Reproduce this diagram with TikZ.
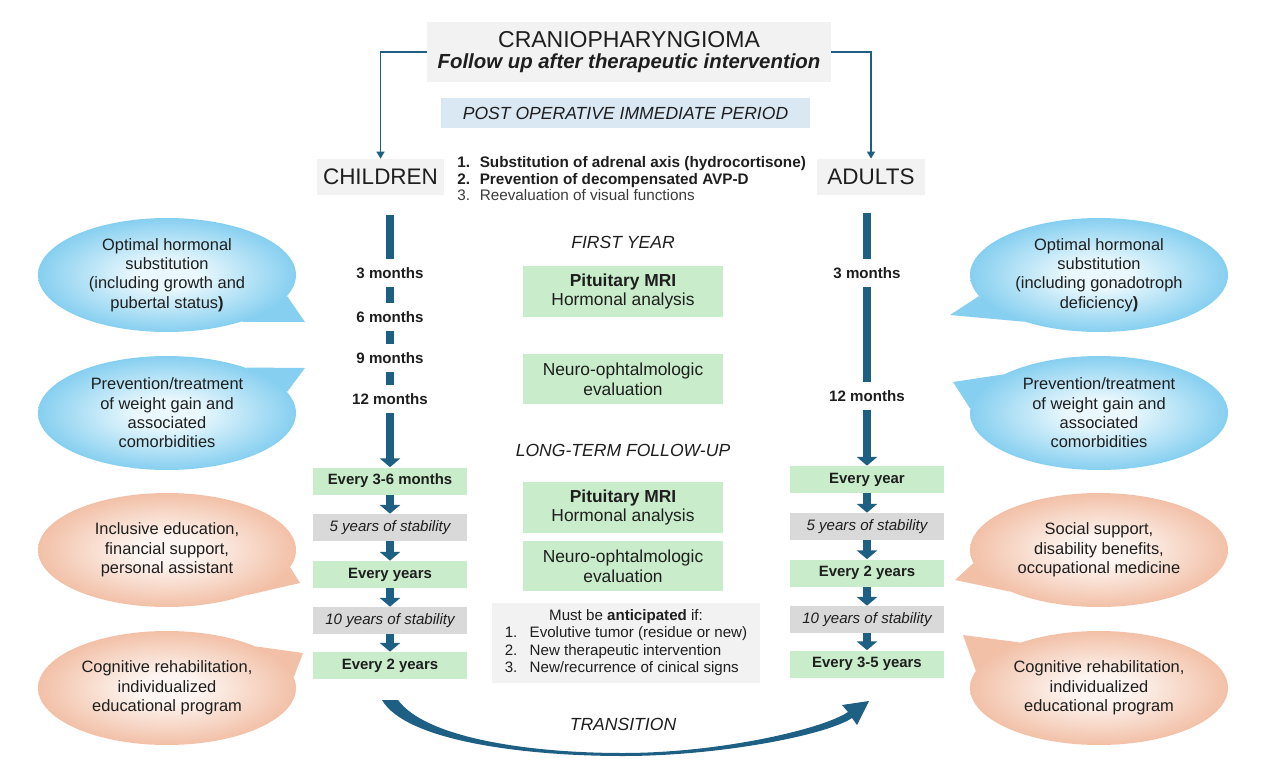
\documentclass[tikz,border=0pt]{standalone}
\usepackage{fontspec}
\setmainfont{Liberation Sans}
\usetikzlibrary{arrows.meta,calc,positioning,shapes.geometric,backgrounds}
\definecolor{fcink}{HTML}{1E1E1E}
\definecolor{fcsoft}{HTML}{3A3A3A}
\definecolor{fcteal}{HTML}{1E5F84}
\definecolor{fcgreen}{HTML}{C9EDCB}
\definecolor{fcgrey}{HTML}{D9D9D9}
\definecolor{fcpale}{HTML}{F2F2F2}
\definecolor{fcpost}{HTML}{DAE8F4}
\definecolor{fcblueC}{HTML}{EAF8FD}
\definecolor{fcblueE}{HTML}{86CFF0}
\definecolor{fcpeachC}{HTML}{FDF5F1}
\definecolor{fcpeachE}{HTML}{F2C0A7}
\pgfdeclareradialshading{blueglow}{\pgfpoint{0bp}{0bp}}{color(0bp)=(fcblueC); color(6bp)=(fcblueC); color(25bp)=(fcblueE); color(50bp)=(fcblueE)}
\pgfdeclareradialshading{peachglow}{\pgfpoint{0bp}{0bp}}{color(0bp)=(fcpeachC); color(6bp)=(fcpeachC); color(25bp)=(fcpeachE); color(50bp)=(fcpeachE)}
\tikzset{
  titlebox/.style={fill=fcpale,minimum width=8.08cm,minimum height=1.2cm,
    inner sep=0pt,align=center},
  groupbox/.style={fill=fcpale,minimum height=0.72cm,inner sep=0pt,
    font=\fontsize{12.8}{14}\selectfont},
  stepbox/.style={fill=fcgreen,minimum width=3.1cm,minimum height=0.54cm,
    inner sep=0pt,font=\fontsize{8.5}{10}\selectfont\bfseries},
  stablebox/.style={fill=fcgrey,minimum width=3.1cm,minimum height=0.54cm,
    inner sep=0pt,font=\fontsize{8.6}{10}\selectfont\itshape},
  monthlabel/.style={minimum height=0.56cm,inner sep=0pt,
    font=\fontsize{8.6}{10}\selectfont\bfseries},
  examblock/.style={fill=fcgreen,minimum width=4cm,inner sep=0pt,align=center,
    font=\fontsize{9.9}{11.3}\selectfont},
  phasetitle/.style={font=\fontsize{10}{12}\selectfont\itshape},
  bubble/.style={ellipse,minimum width=5.16cm,minimum height=2.28cm,
    inner sep=0pt,align=center,font=\fontsize{9.35}{11.05}\selectfont},
  bluebubble/.style={bubble,shade,shading=blueglow},
  peachbubble/.style={bubble,shade,shading=peachglow},
  bartrack/.style={draw=fcteal,line width=5.1pt},
  bararrow/.style={bartrack,-{Triangle[width=11.5pt,length=5pt]}},
  thinlink/.style={draw=fcteal,line width=0.9pt,-{Triangle[width=4.5pt,length=4pt]}},
}

\begin{document}
\begin{tikzpicture}[x=0.02cm,y=-0.02cm,text=fcink]
        \path[use as bounding box] (0,0) rectangle (1268,781);
        % header
        \node[titlebox] (title) at (629,52)
          {\raisebox{-2pt}{\fontsize{13.1}{15}\selectfont CRANIOPHARYNGIOMA}\\[2pt]
           {\fontsize{11.6}{15}\selectfont\bfseries\itshape Follow up after therapeutic intervention}};
        \node[fill=fcpost,minimum width=7.38cm,minimum height=0.6cm,phasetitle] (postop)
          at (625.5,113) {POST OPERATIVE IMMEDIATE PERIOD};
        \node[groupbox,minimum width=2.54cm] (children) at (380.5,177) {CHILDREN};
        \node[groupbox,minimum width=2.16cm] (adults) at (871,177) {ADULTS};
        \draw[thinlink] (title.west) -| (children.north);
        \draw[thinlink] (title.east) -| (adults.north);
        \node[anchor=west,inner sep=0pt,font=\fontsize{8.7}{9.4}\selectfont] (acute) at (457,181)
          {\begin{tabular}{@{}l@{\hspace{5.5pt}}l@{}}
             \textbf{1.} & \textbf{Substitution of adrenal axis (hydrocortisone)}\\
             \textbf{2.} & \textbf{Prevention of decompensated AVP-D}\\
             \color{fcsoft}3. & \color{fcsoft}Reevaluation of visual functions
           \end{tabular}};
        % first year
        \node[phasetitle] (firstyear) at (623,242) {FIRST YEAR};
        \node[examblock,minimum height=1.02cm] (mriA) at (623,291.5)
          {\textbf{Pituitary MRI}\\Hormonal analysis};
        \node[examblock,minimum height=1cm] (neuroA) at (623,379)
          {Neuro-ophtalmologic\\evaluation};
        \foreach \n/\x/\y/\t in {m3L/390/273/3 months,m6L/390/317/6 months,
            m9L/390/358/9 months,m12L/390/399/12 months,
            m3R/867/273/3 months,m12R/867/396/12 months}
          {\node[monthlabel] (\n) at (\x,\y) {\t};}
        \coordinate (topL) at (390,215);
        \coordinate (topR) at (867,213);
        % long-term follow-up
        \node[phasetitle] (longterm) at (623,450) {LONG-TERM FOLLOW-UP};
        \node[examblock,minimum height=1.02cm] (mriB) at (623,507.5)
          {\textbf{Pituitary MRI}\\Hormonal analysis};
        \node[examblock,minimum height=1cm] (neuroB) at (623,566)
          {Neuro-ophtalmologic\\evaluation};
        \node[fill=fcpale,minimum width=5.36cm,minimum height=1.6cm,inner sep=0pt,
          font=\fontsize{8.6}{10}\selectfont] (anticip) at (626,643)
          {\begin{tabular}{@{}l@{\hspace{7pt}}l@{}}
             \multicolumn{2}{c}{Must be \textbf{anticipated} if:}\\
             1. & Evolutive tumor (residue or new)\\
             2. & New therapeutic intervention\\
             3. & New/recurrence of cinical signs
           \end{tabular}};
        \foreach \n/\x/\y/\s/\t in {every36/390/481/stepbox/Every 3-6 months,
            fiveL/390/527.5/stablebox/5 years of stability,
            everyyrs/390/574.5/stepbox/Every years,
            tenL/390/620.5/stablebox/10 years of stability,
            every2L/390/665.5/stepbox/Every 2 years,
            everyyear/867/479.5/stepbox/Every year,
            fiveR/867/526.5/stablebox/5 years of stability,
            every2R/867/573/stepbox/Every 2 years,
            tenR/867/619.5/stablebox/10 years of stability,
            every35/867/664/stepbox/Every 3-5 years}
          {\node[\s] (\n) at (\x,\y) {\t};}
        % timeline bars
        \draw[bartrack] (topL) -- (m3L);
        \draw[bartrack] (m3L) -- (m6L);
        \draw[bartrack] (m6L) -- (m9L);
        \draw[bartrack] (m9L) -- (m12L);
        \draw[bararrow] (m12L) -- (every36);
        \draw[bartrack] (topR) -- (m3R);
        \draw[bartrack] (m3R) -- (m12R);
        \draw[bararrow] (m12R) -- (everyyear);
        \foreach \a/\b in {every36/fiveL,fiveL/everyyrs,everyyrs/tenL,tenL/every2L,
            everyyear/fiveR,fiveR/every2R,every2R/tenR,tenR/every35}
          {\draw[bararrow] (\a) -- (\b);}
        % transition
        \fill[fcteal] (382,700) .. controls (405,740) and (520,756) .. (623,756)
          .. controls (720,756) and (827,735) .. (852,718) -- (857,725) -- (869,701)
          -- (842,705) -- (848,712) .. controls (823,729) and (720,753) .. (623,753)
          .. controls (525,753) and (425,737) .. (398,700) -- cycle;
        \node[phasetitle] (transition) at (623,724) {TRANSITION};
        % side bubbles
        \node[bluebubble] (hormL) at (167,275)
          {Optimal hormonal\\substitution\\(including growth and\\pubertal status\textbf{)}};
        \node[bluebubble] (weightL) at (167,413)
          {Prevention/treatment\\of weight gain and\\associated\\comorbidities};
        \node[peachbubble] (socialL) at (167,550)
          {Inclusive education,\\financial support,\\personal assistant};
        \node[peachbubble] (cogL) at (167,688)
          {Cognitive rehabilitation,\\individualized\\educational program};
        \node[bluebubble] (hormR) at (1099,275)
          {Optimal hormonal\\substitution\\(including gonadotroph\\deficiency\textbf{)}};
        \node[bluebubble] (weightR) at (1099,413)
          {Prevention/treatment\\of weight gain and\\associated\\comorbidities};
        \node[peachbubble] (socialR) at (1099,550)
          {Social support,\\disability benefits,\\occupational medicine};
        \node[peachbubble] (cogR) at (1099,688)
          {Cognitive rehabilitation,\\individualized\\educational program};
        \begin{scope}[on background layer]
          \fill[fcblueE] (hormL.-10) -- (305,322) -- (hormL.-32) -- cycle;
          \fill[fcblueE] (weightL.10) -- (305,368) -- (weightL.30) -- cycle;
          \fill[fcblueE] (hormR.190) -- (950,315) -- (hormR.212) -- cycle;
          \fill[fcblueE] (weightR.158) -- (953,382) -- (weightR.178) -- cycle;
          \fill[fcpeachE] (socialL.-8) -- (300,583) -- (socialL.-30) -- cycle;
          \fill[fcpeachE] (cogL.5) -- (303,653) -- (cogL.25) -- cycle;
          \fill[fcpeachE] (socialR.186) -- (955,580) -- (socialR.205) -- cycle;
          \fill[fcpeachE] (cogR.150) -- (963,635) -- (cogR.172) -- cycle;
        \end{scope}
      \end{tikzpicture}
\end{document}
